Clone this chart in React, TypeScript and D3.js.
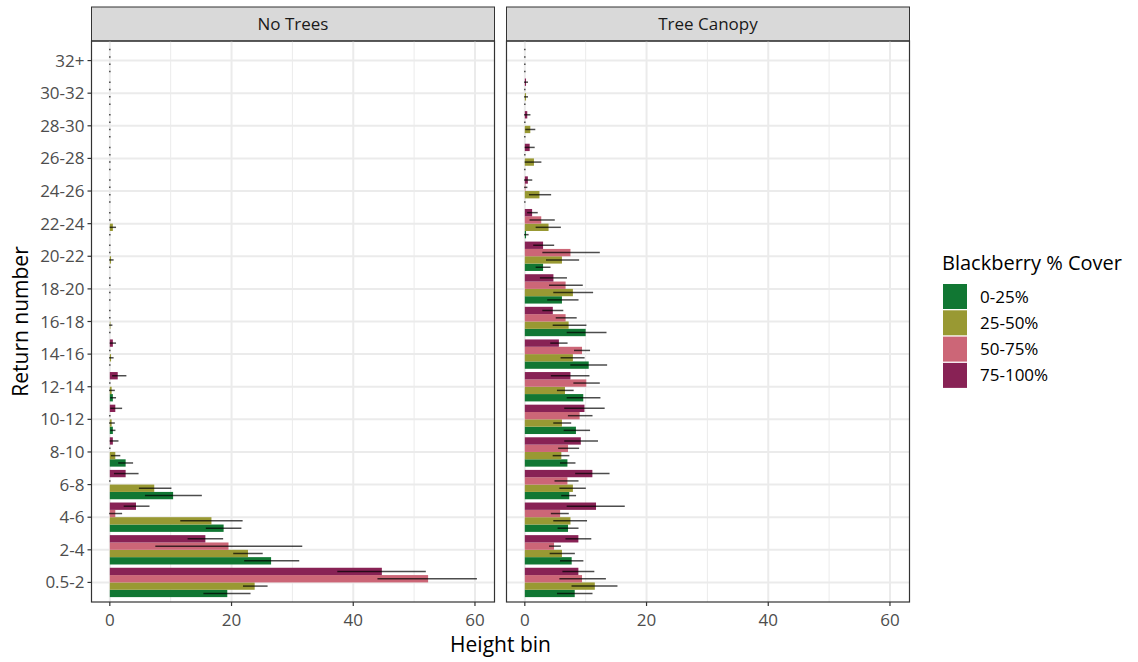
import React from "react";
import * as d3 from "d3";

const categories = ["0.5-2","2-4","4-6","6-8","8-10","10-12","12-14","14-16","16-18","18-20","20-22","22-24","24-26","26-28","28-30","30-32","32+"];
const groups = ["0-25%","25-50%","50-75%","75-100%"];
const colors = ["#117733","#999933","#CC6677","#882255"];
const panels = ["No Trees","Tree Canopy"];
const xTicks = [0,20,40,60];
const xMinor = [10,30,50];

// No Trees
const nt_g = [19.3,26.5,18.7,10.4,2.6,0.5,0.5,0,0,0,0,0,0,0,0,0,0];
const nt_gLo = [15.5,22.2,15.9,5.9,1.5,0.2,0.2,0,0,0,0,0,0,0,0,0,0];
const nt_gHi = [23.0,31.0,21.5,15.0,3.7,0.8,0.9,0,0,0,0,0,0,0,0,0,0];
const nt_o = [23.8,22.7,16.7,7.3,0.9,0.3,0.3,0.2,0.1,0,0.2,0.5,0,0,0,0,0];
const nt_oLo = [22.0,20.4,11.7,4.9,0.3,0,0,0,0,0,0,0.1,0,0,0,0,0];
const nt_oHi = [25.8,25.0,21.7,10.0,1.6,0.7,0.7,0.5,0.3,0,0.5,0.9,0,0,0,0,0];
const nt_p = [52.3,19.5,0.9,0,0,0,0,0,0,0,0,0,0,0,0,0,0];
const nt_pLo = [44.1,7.6,0,0,0,0,0,0,0,0,0,0,0,0,0,0,0];
const nt_pHi = [60.2,31.5,1.9,0,0,0,0,0,0,0,0,0,0,0,0,0,0];
const nt_v = [44.7,15.7,4.3,2.6,0.5,0.9,1.3,0.5,0,0,0,0,0,0,0,0,0];
const nt_vLo = [37.5,12.9,2.4,0.8,0.1,0.2,0.5,0.1,0,0,0,0,0,0,0,0,0];
const nt_vHi = [51.8,18.5,6.4,4.6,1.3,1.9,2.6,0.9,0,0,0,0,0,0,0,0,0];

// Tree Canopy
const tc_g = [8.2,7.7,7.1,7.3,7.0,8.4,9.6,10.5,10.0,6.1,3.0,0.2,0,0,0,0,0];
const tc_gLo = [5.4,5.9,5.5,6.1,5.9,6.5,7.0,7.6,7.0,3.8,1.9,0,0,0,0,0,0];
const tc_gHi = [11.0,9.5,8.7,8.3,8.2,10.6,12.3,13.4,13.3,8.7,4.1,0.5,0,0,0,0,0];
const tc_o = [11.5,6.1,7.5,7.9,6.0,6.1,6.6,7.9,7.2,7.9,6.1,3.9,2.4,1.5,0.9,0.2,0];
const tc_oLo = [7.8,4.2,4.8,5.8,4.7,4.8,5.4,6.0,4.7,4.8,3.6,1.9,0.8,0.1,0.2,0,0];
const tc_oHi = [15.1,8.1,10.1,9.9,7.2,7.5,7.9,9.7,10.0,11.1,8.8,5.8,4.2,2.6,1.6,0.4,0];
const tc_p = [9.4,4.8,5.8,7.0,7.1,9.0,10.1,9.4,6.7,6.7,7.5,2.7,0.1,0,0,0,0];
const tc_pLo = [5.8,4.1,4.4,5.0,5.6,7.2,8.1,8.2,5.2,4.1,3.0,0.9,0,0,0,0,0];
const tc_pHi = [13.2,5.8,7.1,8.7,8.8,11.0,12.2,10.6,8.4,9.4,12.2,4.8,0.3,0,0,0,0];
const tc_v = [8.8,8.8,11.7,11.1,9.2,9.8,7.5,5.6,4.6,4.7,3.0,1.2,0.5,0.8,0.4,0.2,0];
const tc_vLo = [6.3,6.8,7.0,8.4,6.6,6.6,4.4,4.3,3.0,2.6,1.5,0.5,0,0.1,0,0,0];
const tc_vHi = [11.3,10.8,16.3,13.8,11.9,13.0,10.5,6.9,6.2,6.8,4.7,2.0,1.1,1.5,0.8,0.4,0];

const panelData = [
  { vals: [nt_g, nt_o, nt_p, nt_v], lo: [nt_gLo, nt_oLo, nt_pLo, nt_vLo], hi: [nt_gHi, nt_oHi, nt_pHi, nt_vHi] },
  { vals: [tc_g, tc_o, tc_p, tc_v], lo: [tc_gLo, tc_oLo, tc_pLo, tc_vLo], hi: [tc_gHi, tc_oHi, tc_pHi, tc_vHi] },
];

const FONT = "'Open Sans', Lato, 'Noto Sans', sans-serif";
const W = 1138, H = 662;
const panelTop = 41, panelBottom = 602;
const panelW = 403, gap = 12;
const panelX0 = 91.5;
const stripTop = 7;

export default function App() {
  const M = d3.max(panelData.flatMap(p => p.hi.flat())) as number;
  const x = d3.scaleLinear().domain([-0.05 * M, 1.05 * M]).range([0, panelW]);
  const y = d3.scalePoint<string>().domain(categories).range([panelBottom, panelTop]).padding(0.6);
  const step = y.step();
  const sub = d3.scaleBand<number>().domain([3, 2, 1, 0]).range([-0.45 * step, 0.45 * step]);
  const bh = sub.bandwidth();

  return (
    <svg width={W} height={H} style={{ position: "absolute", left: 0, top: 0 }} fontFamily={FONT}>
      <rect width={W} height={H} fill="#fff" />
      {panels.map((name, pi) => {
        const px = panelX0 + pi * (panelW + gap);
        const pd = panelData[pi];
        return (
          <g key={name} transform={`translate(${px},0)`}>
            <rect x={0} y={stripTop} width={panelW} height={panelTop - stripTop} fill="#D9D9D9" stroke="#333" strokeWidth={1} />
            <text x={panelW / 2} y={(stripTop + panelTop) / 2 + 6} textAnchor="middle" fontSize={17} fill="#1A1A1A">{name}</text>
            {xMinor.map(t => (
              <line key={"mn" + t} x1={x(t)} x2={x(t)} y1={panelTop} y2={panelBottom} stroke="#EBEBEB" strokeWidth={1} />
            ))}
            {xTicks.map(t => (
              <line key={"mj" + t} x1={x(t)} x2={x(t)} y1={panelTop} y2={panelBottom} stroke="#EBEBEB" strokeWidth={2} />
            ))}
            {categories.map(c => (
              <line key={"yg" + c} x1={0} x2={panelW} y1={y(c)} y2={y(c)} stroke="#EBEBEB" strokeWidth={2} />
            ))}
            {categories.map((c, ci) => groups.map((g, gi) => {
              const v = pd.vals[gi][ci];
              const yc = (y(c) as number) + (sub(gi) as number);
              return v > 0 ? (
                <rect key={c + g} x={x(0)} y={yc} width={x(v) - x(0)} height={bh} fill={colors[gi]} />
              ) : null;
            }))}
            {categories.map((c, ci) => groups.map((g, gi) => {
              const lo = pd.lo[gi][ci], hi = pd.hi[gi][ci];
              const yc = (y(c) as number) + (sub(gi) as number) + bh / 2;
              return (
                <line key={"e" + c + g} x1={x(lo)} x2={x(hi)} y1={yc} y2={yc} stroke="#000" strokeOpacity={0.7} strokeWidth={1.5} strokeLinecap="square" />
              );
            }))}
            <rect x={0} y={panelTop} width={panelW} height={panelBottom - panelTop} fill="none" stroke="#333" strokeWidth={1.2} />
            {xTicks.map(t => (
              <g key={"xt" + t}>
                <line x1={x(t)} x2={x(t)} y1={panelBottom} y2={panelBottom + 4} stroke="#333" strokeWidth={1.2} />
                <text x={x(t)} y={panelBottom + 24} textAnchor="middle" fontSize={17} fill="#4D4D4D">{t}</text>
              </g>
            ))}
          </g>
        );
      })}
      {categories.map(c => (
        <g key={"yt" + c}>
          <line x1={panelX0 - 4} x2={panelX0} y1={y(c)} y2={y(c)} stroke="#333" strokeWidth={1.2} />
          <text x={panelX0 - 7} y={(y(c) as number) + 6} textAnchor="end" fontSize={17} fill="#4D4D4D">{c}</text>
        </g>
      ))}
      <text transform={`translate(28,${(panelTop + panelBottom) / 2}) rotate(-90)`} textAnchor="middle" fontSize={21} fill="#000">Return number</text>
      <text x={panelX0 + panelW + gap / 2} y={652} textAnchor="middle" fontSize={21} fill="#000">Height bin</text>
      <text x={942} y={270} fontSize={20} fill="#000">Blackberry % Cover</text>
      {groups.map((g, gi) => (
        <g key={"lg" + g} transform={`translate(943,${284 + gi * 26.3})`}>
          <rect x={0} y={0} width={24} height={25} fill={colors[gi]} />
          <text x={37} y={12.5 + 6} fontSize={17} fill="#000">{g}</text>
        </g>
      ))}
    </svg>
  );
}
